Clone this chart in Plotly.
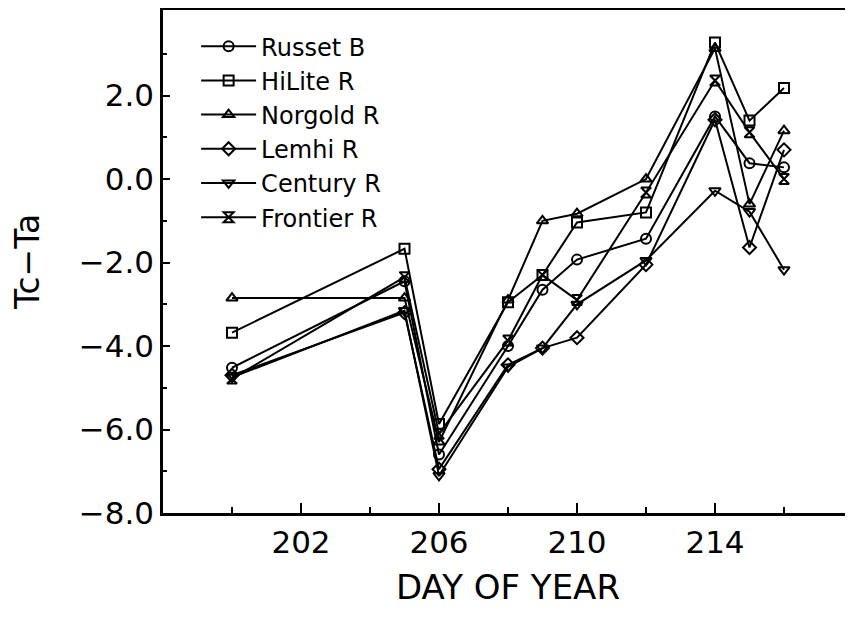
import plotly.graph_objects as go

days = [200, 205, 206, 208, 209, 210, 212, 214, 215, 216]

russet_b = [-4.52, -2.45, -6.60, -4.00, -2.65, -1.93, -1.43, 1.50, 0.38, 0.28]
hilite_r = [-3.68, -1.67, -5.87, -2.95, -2.30, -1.04, -0.80, 3.27, 1.40, 2.18]
norgold_r = [-2.85, -2.85, -6.30, -2.90, -1.00, -0.83, 0.00, 3.13, -0.60, 1.16]
lemhi_r = [-4.70, -3.20, -6.95, -4.45, -4.05, -3.80, -2.05, 1.42, -1.64, 0.70]
century_r = [-4.75, -3.15, -7.10, -4.50, -4.05, -3.00, -1.95, -0.28, -0.78, -2.17]
frontier_r = [-4.78, -2.35, -6.10, -3.87, -2.30, -2.90, -0.32, 2.36, 1.12, 0.00]

series = [
    ("Russet B", russet_b, "circle-open"),
    ("HiLite R", hilite_r, "square-open"),
    ("Norgold R", norgold_r, "triangle-up-open"),
    ("Lemhi R", lemhi_r, "diamond-open"),
    ("Century R", century_r, "triangle-down-open"),
    ("Frontier R", frontier_r, "hourglass-open"),
]

y_ticks = [-8, -6, -4, -2, 0, 2]
x_ticks = [202, 206, 210, 214]
x_minor = [200, 204, 208, 212, 216]
y_minor = [-7, -5, -3, -1, 1, 3]

fig = go.Figure()
for name, vals, sym in series:
    fig.add_trace(go.Scatter(
        x=days, y=vals, name=name, mode="lines+markers",
        line=dict(color="black", width=2),
        marker=dict(symbol=sym, size=10, color="black",
                    line=dict(color="black", width=2)),
    ))

font_family = "DejaVu Sans, Arial, sans-serif"
fig.update_layout(
    width=845, height=611,
    margin=dict(l=155, r=0, t=2, b=106, autoexpand=False),
    paper_bgcolor="white", plot_bgcolor="white",
    font=dict(family=font_family, color="black"),
    showlegend=True,
    legend=dict(x=0.048, y=0.972, xanchor="left", yanchor="top",
                bgcolor="rgba(0,0,0,0)", borderwidth=0,
                font=dict(size=24, family=font_family, color="black"),
                itemwidth=55, tracegroupgap=0),
    xaxis=dict(
        range=[198, 218], showgrid=False, zeroline=False, automargin=False,
        showline=True, linecolor="black", linewidth=2.5, mirror=True,
        ticks="inside", ticklen=10, tickwidth=1.5, tickcolor="black",
        tickmode="array", tickvals=x_ticks,
        tickfont=dict(size=31, family=font_family),
        minor=dict(tickmode="array", tickvals=x_minor, ticks="inside",
                   ticklen=6, tickwidth=1.5, tickcolor="black"),
        title=dict(text="DAY OF YEAR", font=dict(size=34, family=font_family),
                   standoff=17),
    ),
    yaxis=dict(
        range=[-8, 4.05], showgrid=False, zeroline=False, automargin=False,
        showline=True, linecolor="black", linewidth=2.5, mirror=False,
        ticks="inside", ticklen=7, tickwidth=1.5, tickcolor="black",
        tickmode="array", tickvals=y_ticks, tickformat=".1f",
        tickfont=dict(size=31, family=font_family),
        minor=dict(tickmode="array", tickvals=y_minor, ticks="inside",
                   ticklen=4, tickwidth=1.5, tickcolor="black"),
        title=dict(text="Tc−Ta", font=dict(size=33, family=font_family),
                   standoff=30),
    ),
)

fig.write_html("out.html")
